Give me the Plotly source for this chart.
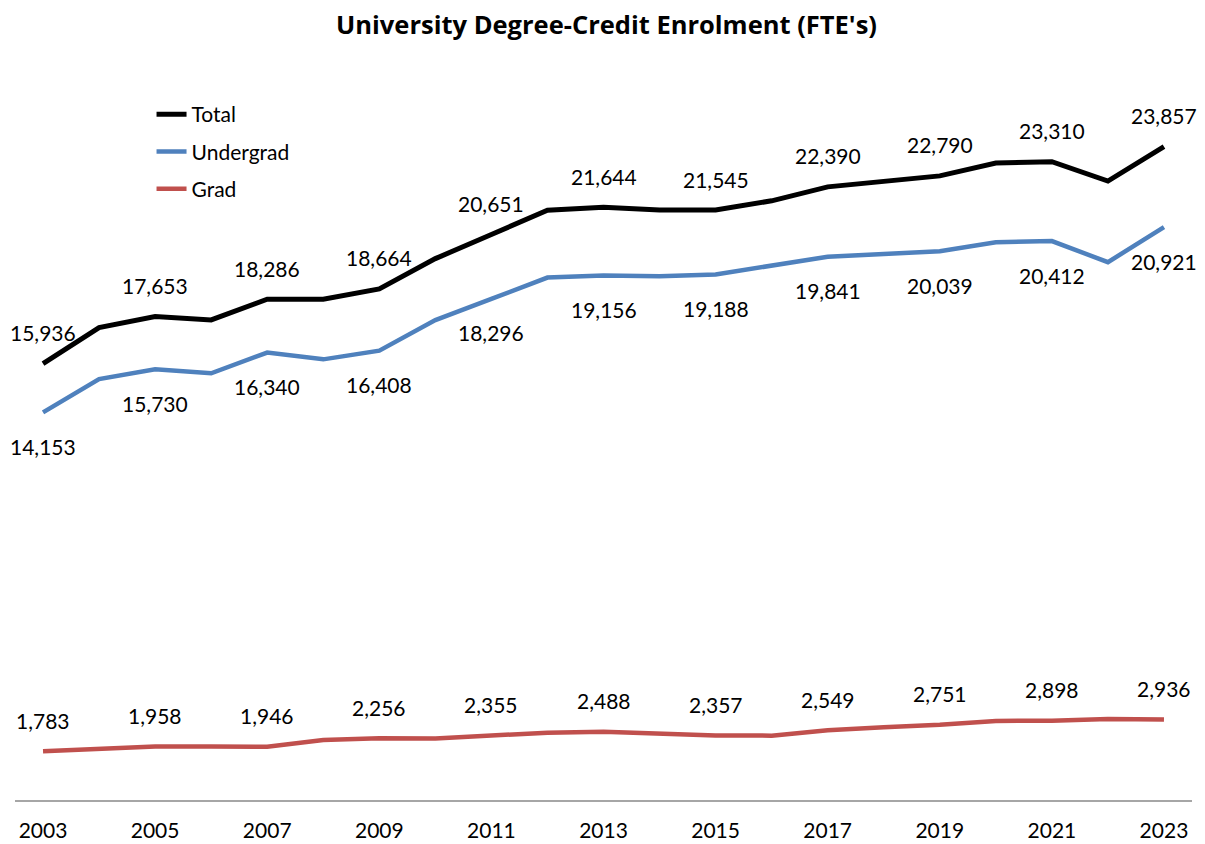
import plotly.graph_objects as go

years = list(range(2003, 2024))
total = [15936, 17250, 17653, 17530, 18286, 18285, 18664, 19770, 20651, 21538, 21644,
         21546, 21545, 21880, 22390, 22600, 22790, 23258, 23310, 22600, 23857]
undergrad = [14153, 15370, 15730, 15581, 16340, 16091, 16408, 17523, 18296, 19078, 19156,
             19126, 19188, 19530, 19841, 19940, 20039, 20370, 20412, 19640, 20921]
grad = [1783, 1880, 1958, 1950, 1946, 2190, 2256, 2250, 2355, 2460, 2488,
        2420, 2357, 2350, 2549, 2660, 2751, 2888, 2898, 2960, 2936]
tick_years = list(range(2003, 2024, 2))

FONT = "Lato, 'Open Sans', sans-serif"

series = [
    ("Total", total, "#000000", 5, 31),
    ("Undergrad", undergrad, "#4F81BD", 4.5, -34),
    ("Grad", grad, "#C0504D", 4.5, 31),
]

fig = go.Figure()
for name, vals, color, width, shift in series:
    fig.add_trace(go.Scatter(
        x=years, y=vals, name=name, mode="lines", legendgroup=name,
        line=dict(color=color, width=width),
    ))
    # data labels on odd years only
    for yr, v in zip(years, vals):
        if yr in tick_years:
            fig.add_annotation(x=yr, y=v, text=f"{v:,}", showarrow=False,
                               yshift=shift, font=dict(size=21, color="#000000"))

# page body adds an 8px offset, so the figure is a bit smaller than the window
fig.update_layout(
    width=1197, height=836,
    paper_bgcolor="white", plot_bgcolor="white",
    font=dict(family=FONT, size=21, color="#000000"),
    title=dict(text="<b>University Degree-Credit Enrolment (FTE's)</b>",
               x=0.5, xanchor="center", y=1 - 17.5 / 836, yanchor="middle",
               font=dict(family="'Open Sans', sans-serif", size=25.5, color="#000000")),
    margin=dict(l=7, r=13, t=80, b=44),
    showlegend=True,
    legend=dict(x=0.116, xanchor="left", y=0.9916, yanchor="top",
                bgcolor="rgba(0,0,0,0)", tracegroupgap=7,
                font=dict(size=21, color="#000000")),
    xaxis=dict(range=[2002.5, 2023.5], tickvals=tick_years, ticks="",
               showgrid=False, zeroline=False, showline=True, automargin=False,
               linecolor="#A6A6A6", linewidth=2, ticklabelstandoff=11,
               tickfont=dict(size=21, color="#000000")),
    yaxis=dict(range=[0, 26000], visible=False),
)

fig.write_html("out.html")
